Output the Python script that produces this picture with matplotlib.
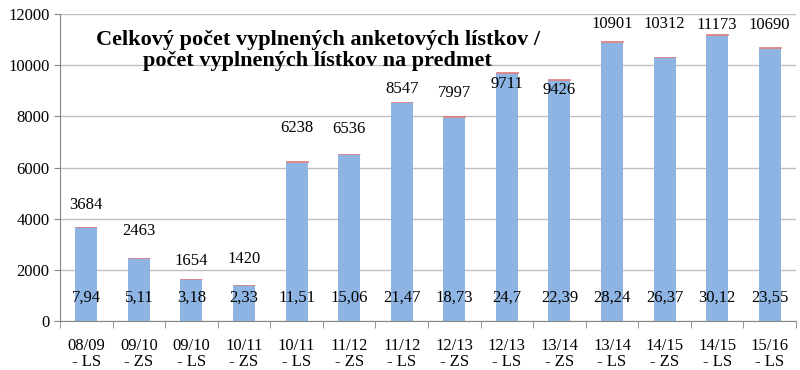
import matplotlib
matplotlib.use("Agg")
import matplotlib.pyplot as plt
import numpy as np
from matplotlib.transforms import offset_copy

categories = ["08/09\n- LS", "09/10\n- ZS", "09/10\n- LS", "10/11\n- ZS", "10/11\n- LS",
              "11/12\n- ZS", "11/12\n- LS", "12/13\n- ZS", "12/13\n- LS", "13/14\n- ZS",
              "13/14\n- LS", "14/15\n- ZS", "14/15\n- LS", "15/16\n- LS"]
total = [3684, 2463, 1654, 1420, 6238, 6536, 8547, 7997, 9711, 9426, 10901, 10312, 11173, 10690]
per_subject = [7.94, 5.11, 3.18, 2.33, 11.51, 15.06, 21.47, 18.73, 24.7, 22.39, 28.24, 26.37, 30.12, 23.55]
per_subject_labels = ["7,94", "5,11", "3,18", "2,33", "11,51", "15,06", "21,47", "18,73",
                      "24,7", "22,39", "28,24", "26,37", "30,12", "23,55"]

# label placement offsets (pixels above bar top), as in the reference
label_dy = [22, 27, 18, 26, 34, 25, 13, 24, -11, -10, 18, 33, 10, 23]

plt.rcParams['font.family'] = ['Liberation Serif', 'DejaVu Serif']

fig = plt.figure(figsize=(8, 3.7), dpi=100)
ax = fig.add_axes([0.075, 0.132, 0.92, 0.83])

x = np.arange(len(categories))
w = 0.42
ax.bar(x, total, width=w, color='#8DB4E2', zorder=2)
ax.bar(x, per_subject, width=w, bottom=total, color='#E08585', edgecolor='#E08585',
       linewidth=0.6, zorder=3)

for xi, t, dy in zip(x, total, label_dy):
    tr = offset_copy(ax.transData, fig=fig, x=0, y=-dy, units='dots')
    ax.text(xi, t, str(t), ha='center', va='center', fontsize=12, zorder=4,
            transform=offset_copy(ax.transData, fig=fig, x=0, y=dy * 72 / 100, units='points'))
for xi, lab in zip(x, per_subject_labels):
    ax.text(xi, 900, lab, ha='center', va='center', fontsize=12, zorder=4)

ax.set_xlim(-0.5, len(categories) - 0.5)
ax.set_ylim(0, 12000)
ax.set_yticks(np.arange(0, 12001, 2000))
ax.yaxis.grid(True, color='#BFBFBF', linewidth=1.0, zorder=0)
ax.set_axisbelow(True)

ax.set_xticks(x)
ax.set_xticklabels(categories, fontsize=12, linespacing=1.05)
ax.set_xticks(np.arange(-0.5, len(categories), 1), minor=True)
ax.tick_params(axis='x', which='major', length=0, pad=12)
ax.tick_params(axis='x', which='minor', length=5, color='#868686')
ax.tick_params(axis='y', direction='out', length=4, color='#868686', labelsize=12)

for s in ['top', 'right']:
    ax.spines[s].set_visible(False)
for s in ['left', 'bottom']:
    ax.spines[s].set_color('#868686')

ax.text(0.35, 0.882, "Celkový počet vyplnených anketových lístkov /\npočet vyplnených lístkov na predmet",
        transform=ax.transAxes, ha='center', va='center', fontsize=16, fontweight='bold',
        linespacing=1.1, zorder=5)

fig.savefig("out.png", dpi=100)
